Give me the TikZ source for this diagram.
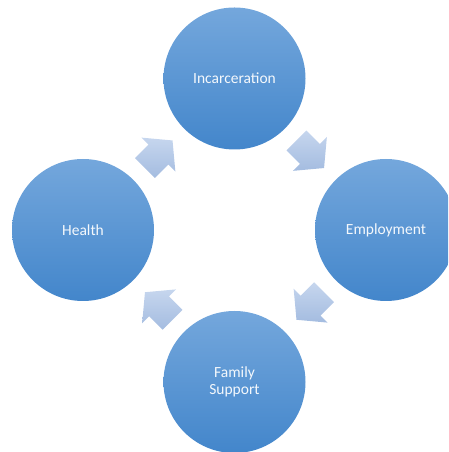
\documentclass[tikz,border=0pt]{standalone}
\usepackage{fontspec}
\setmainfont{Carlito}
\usetikzlibrary{calc}
\definecolor{DiscTop}{HTML}{74A7DC}
\definecolor{DiscBottom}{HTML}{4386CB}
\definecolor{ArrowTop}{HTML}{C6D6EE}
\definecolor{ArrowBottom}{HTML}{A4BCE0}
\definecolor{Label}{HTML}{F4F8FC}

\begin{document}
\begin{tikzpicture}[x=1pt, y=1pt,
    disc/.style={circle, minimum size=142pt, inner sep=0pt, top color=DiscTop, bottom color=DiscBottom,
      text=Label, align=center, font=\fontsize{15.5}{16.5}\selectfont},
    cyclearrow/.style={top color=ArrowTop, bottom color=ArrowBottom}]
    \useasboundingbox (0,0) rectangle (448,452);
    \clip (0,0) rectangle (448,452);
    \node[disc] (inc) at (234.5,373.5) {Incarceration};
    \node[disc] (emp) at (386,222) {Employment};
    \node[disc] (fam) at (234.5,70) {Family\\Support};
    \node[disc] (hea) at (83,222) {Health};
    % block arrows halfway between the discs
    \foreach \from/\to/\ang in {hea/inc/45, inc/emp/-45, emp/fam/-135, fam/hea/135}
      \shade[cyclearrow, shift={($(\from)!0.5!(\to)$)}, rotate=\ang]
        (-19.5,-14) -- (-0.5,-14) -- (-0.5,-24) -- (19.5,0) -- (-0.5,24) -- (-0.5,14) -- (-19.5,14) -- cycle;
  \end{tikzpicture}
\end{document}
